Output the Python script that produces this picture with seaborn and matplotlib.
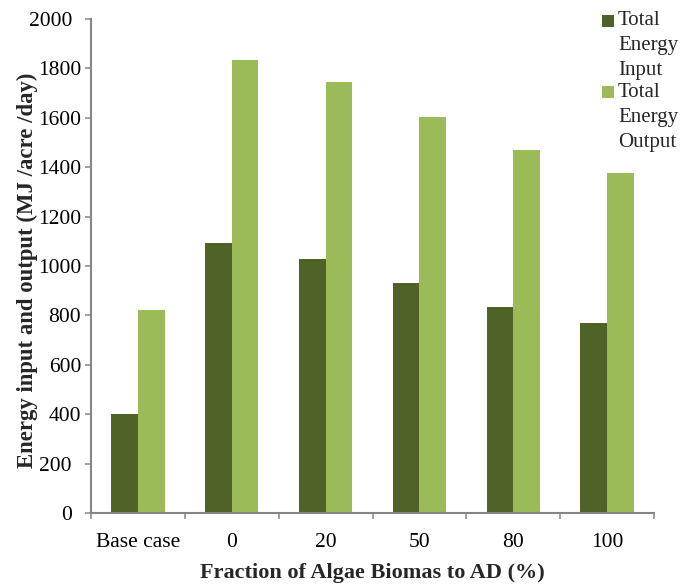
import matplotlib
matplotlib.use("Agg")
import matplotlib.pyplot as plt
import matplotlib.transforms as mtransforms
import pandas as pd
import seaborn as sns
from matplotlib.patches import Patch, Rectangle
from matplotlib.legend_handler import HandlerPatch
from matplotlib.ticker import FixedLocator

# Energy balance per scenario (MJ/acre/day)
categories = ["Base case", "0", "20", "50", "80", "100"]
energy_input = [400, 1095, 1030, 930, 835, 770]
energy_output = [820, 1835, 1745, 1605, 1468, 1375]
series_names = ["Total\nEnergy\nInput", "Total\nEnergy\nOutput"]
y_ticks = [0, 200, 400, 600, 800, 1000, 1200, 1400, 1600, 1800, 2000]

DARK = "#4F6228"
LIGHT = "#9BBB59"
GREY = "#868686"

df = pd.DataFrame({
    "Fraction": categories * 2,
    "Energy": energy_input + energy_output,
    "Series": [series_names[0]] * len(categories) + [series_names[1]] * len(categories),
})

sns.set_theme(style="white")
plt.rcParams["font.family"] = ["Liberation Serif", "DejaVu Serif"]

fig = plt.figure(figsize=(6.99, 5.86), dpi=100)
ax = fig.add_axes([91 / 699, 73 / 586, 563 / 699, 494 / 586])

sns.barplot(
    data=df, x="Fraction", y="Energy", hue="Series",
    order=categories, hue_order=series_names,
    palette=[DARK, LIGHT], saturation=1, width=0.57, gap=0,
    linewidth=0, errorbar=None, legend=False, ax=ax,
)

ax.set_xlim(-0.5, len(categories) - 0.5)
ax.set_ylim(0, 2000)
ax.yaxis.set_major_locator(FixedLocator(y_ticks))
ax.set_yticklabels([str(v) for v in y_ticks])

# category separators as minor ticks on the x axis
ax.xaxis.set_minor_locator(FixedLocator([i - 0.5 for i in range(len(categories) + 1)]))

for side in ("top", "right"):
    ax.spines[side].set_visible(False)
for side in ("left", "bottom"):
    ax.spines[side].set_color(GREY)
    ax.spines[side].set_linewidth(1.5)

ax.tick_params(axis="y", which="major", direction="out", length=4.3, width=1.1,
               color=GREY, pad=2.9, labelsize=15.5, labelcolor="black", left=True)
ax.tick_params(axis="x", which="major", length=0, pad=14.2, labelsize=15.5,
               labelcolor="black", bottom=True)
ax.tick_params(axis="x", which="minor", direction="out", length=4.3, width=1.1,
               color=GREY, bottom=True)

# a few value labels sit slightly further left
shift = mtransforms.ScaledTranslation(-9 / 100, 0, fig.dpi_scale_trans)
for lbl, val in zip(ax.get_yticklabels(), y_ticks):
    if val in (0, 200, 2000):
        lbl.set_transform(lbl.get_transform() + shift)

ax.set_xlabel("Fraction of Algae Biomas to AD (%)", fontsize=16, fontweight="bold")
ax.set_ylabel("Energy input and output (MJ /acre /day)", fontsize=16.4, fontweight="bold")
ax.xaxis.set_label_coords(0.5, (513 - 573) / 494)
ax.xaxis.label.set_va("center")
ax.yaxis.set_label_coords((27 - 91) / 563, (513 - 270) / 494)
ax.yaxis.label.set_va("center")

LEG_FS = 15
LINESPACING = 1.44


def top_square(legend, orig_handle, xdescent, ydescent, width, height, fontsize):
    # lift the square from the middle line of the label to its first line
    lift = fontsize * (0.217 + 0.683 * LINESPACING)
    side = width
    cy = -ydescent + (height + ydescent) / 2 + lift
    return Rectangle((-xdescent, cy - side / 2), side, side)


handles = [Patch(facecolor=DARK, edgecolor="none"), Patch(facecolor=LIGHT, edgecolor="none")]
leg = fig.legend(
    handles, series_names, loc="upper left",
    bbox_to_anchor=(602 / 699, 1 - 11 / 586), frameon=False,
    fontsize=LEG_FS, borderpad=0, borderaxespad=0, handlelength=0.58,
    handleheight=0.58, handletextpad=0.19, labelspacing=0.11,
    handler_map={Patch: HandlerPatch(patch_func=top_square)},
)
for t in leg.get_texts():
    t.set_linespacing(LINESPACING)

fig.savefig("out.png", dpi=100)
